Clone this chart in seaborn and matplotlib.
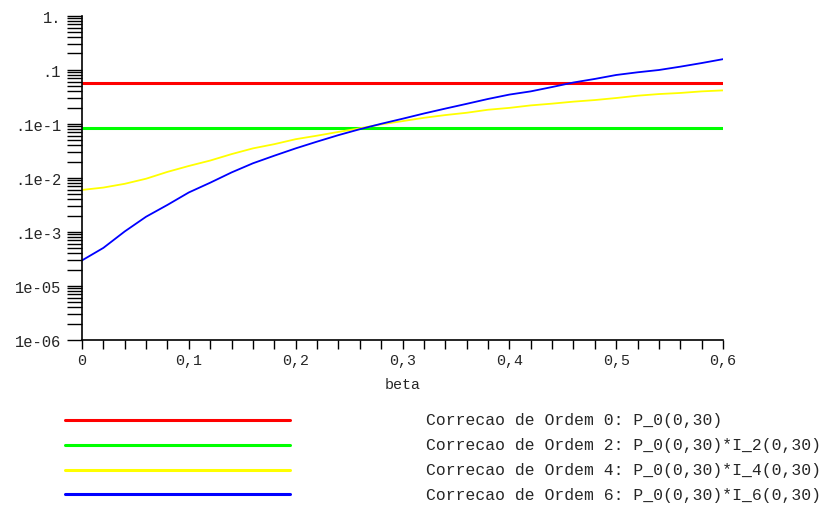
import matplotlib
matplotlib.use("Agg")
import matplotlib.pyplot as plt
from matplotlib.lines import Line2D
from matplotlib.ticker import FixedLocator, FixedFormatter, LogLocator, MultipleLocator, NullFormatter
import seaborn as sns
import pandas as pd

# beta grid (points every 0.02)
beta = [0.00, 0.02, 0.04, 0.06, 0.08, 0.10, 0.12, 0.14, 0.16, 0.18,
        0.20, 0.22, 0.24, 0.26, 0.28, 0.30, 0.32, 0.34, 0.36, 0.38,
        0.40, 0.42, 0.44, 0.46, 0.48, 0.50, 0.52, 0.54, 0.56, 0.58, 0.60]

# constant corrections (order 0 and 2)
ordem0 = 5.64e-2
ordem2 = 8.24e-3

ordem4 = [5.98e-4, 6.61e-4, 7.76e-4, 9.64e-4, 1.29e-3, 1.66e-3, 2.09e-3, 2.75e-3,
          3.51e-3, 4.20e-3, 5.19e-3, 6.03e-3, 7.08e-3, 8.24e-3, 9.77e-3, 1.12e-2,
          1.29e-2, 1.45e-2, 1.60e-2, 1.82e-2, 1.97e-2, 2.19e-2, 2.36e-2, 2.57e-2,
          2.75e-2, 3.00e-2, 3.31e-2, 3.55e-2, 3.72e-2, 3.98e-2, 4.15e-2]

ordem6 = [2.97e-5, 5.06e-5, 1.02e-4, 1.91e-4, 3.16e-4, 5.37e-4, 8.13e-4, 1.26e-3,
          1.86e-3, 2.57e-3, 3.51e-3, 4.68e-3, 6.17e-3, 7.94e-3, 1.00e-2, 1.24e-2,
          1.55e-2, 1.91e-2, 2.34e-2, 2.88e-2, 3.47e-2, 3.98e-2, 4.79e-2, 5.81e-2,
          6.76e-2, 8.00e-2, 8.97e-2, 9.89e-2, 1.14e-1, 1.33e-1, 1.57e-1]

y_ticks = [1e-6, 1e-5, 1e-4, 1e-3, 1e-2, 1e-1, 1.0]
y_labels = ["1e-06", "1e-05", ".1e-3", ".1e-2", ".1e-1", ".1", "1."]
x_ticks = [0.0, 0.1, 0.2, 0.3, 0.4, 0.5, 0.6]
x_labels = ["0", "0,1", "0,2", "0,3", "0,4", "0,5", "0,6"]

legend_labels = ["Correcao de Ordem 0: P_0(0,30)",
                 "Correcao de Ordem 2: P_0(0,30)*I_2(0,30)",
                 "Correcao de Ordem 4: P_0(0,30)*I_4(0,30)",
                 "Correcao de Ordem 6: P_0(0,30)*I_6(0,30)"]
colors = ["#ff0000", "#00ff00", "#ffff00", "#0000ff"]

sns.set_style("ticks")
plt.rcParams["font.family"] = ["Liberation Mono", "DejaVu Sans Mono"]

W, H = 824, 506
fig = plt.figure(figsize=(W / 100, H / 100), dpi=100)
ax = fig.add_axes([82 / W, 1 - 341 / H, (723 - 82) / W, (341 - 16.7) / H])

df = pd.DataFrame({"beta": beta, "ordem4": ordem4, "ordem6": ordem6})

ax.axhline(ordem0, color=colors[0], lw=2.2)
ax.axhline(ordem2, color=colors[1], lw=2.2)
sns.lineplot(data=df, x="beta", y="ordem4", color=colors[2], lw=1.3, ax=ax)
sns.lineplot(data=df, x="beta", y="ordem6", color=colors[3], lw=1.3, ax=ax)

ax.set_yscale("log")
ax.set_xlim(0, 0.6)
ax.set_ylim(1e-6, 1.0)

ax.yaxis.set_major_locator(FixedLocator(y_ticks))
ax.yaxis.set_major_formatter(FixedFormatter(y_labels))
ax.yaxis.set_minor_locator(LogLocator(base=10, subs=[2, 3, 4, 5, 6, 7, 8, 9], numticks=20))
ax.yaxis.set_minor_formatter(NullFormatter())

ax.xaxis.set_major_locator(FixedLocator(x_ticks))
ax.xaxis.set_major_formatter(FixedFormatter(x_labels))
ax.xaxis.set_minor_locator(MultipleLocator(0.02))

ax.tick_params(axis="y", which="both", direction="out", length=11, width=1,
               color="black", labelsize=11.2, pad=4)
ax.tick_params(axis="x", which="both", direction="out", length=6.5, width=1,
               color="black", labelsize=10.8, pad=3)

for side in ["top", "right"]:
    ax.spines[side].set_visible(False)
for side in ["left", "bottom"]:
    ax.spines[side].set_color("black")
    ax.spines[side].set_linewidth(1.2)

ax.set_xlabel("beta", fontsize=10.8, labelpad=7)
ax.set_ylabel("")

# legend drawn below the plot, as in the original
legend_y = [420.7, 446.0, 470.7, 495.3]
for lab, c, yy in zip(legend_labels, colors, legend_y):
    fig.add_artist(Line2D([65 / W, 290 / W], [1 - yy / H, 1 - yy / H],
                          transform=fig.transFigure, color=c, lw=2.2))
    fig.text(426 / W, 1 - yy / H, lab, fontsize=11.8, va="center", ha="left")

fig.savefig("out.png", dpi=100)
